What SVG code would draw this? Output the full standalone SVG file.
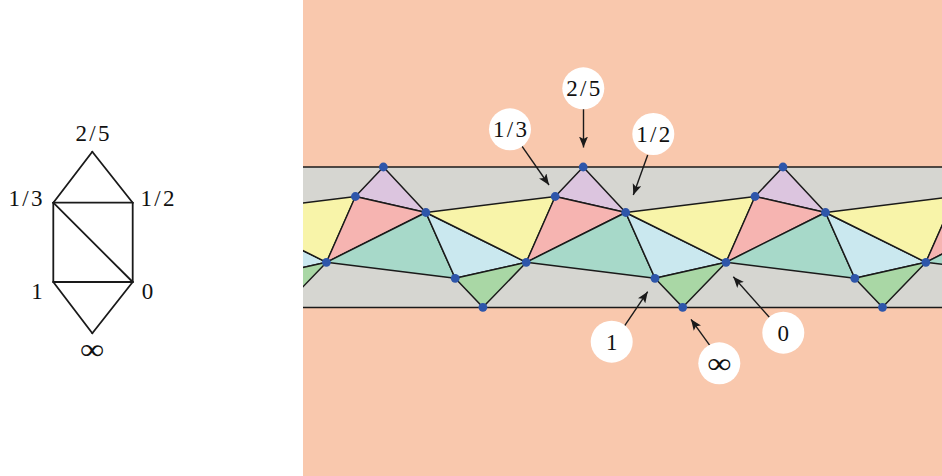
<svg xmlns="http://www.w3.org/2000/svg" xmlns:xlink="http://www.w3.org/1999/xlink" width="942" height="476" viewBox="0 0 942 476">
<style>
.lbl{font-family:"Liberation Serif","DejaVu Serif",serif;font-size:23px;fill:#111;text-anchor:middle}
.inf{font-size:29px}
.g{stroke:#1a1a1a;stroke-width:1.8;fill:none;stroke-linecap:round;stroke-linejoin:round}
.tri{stroke:#1a1a1a;stroke-width:1.5;stroke-linejoin:round}
.dot{fill:#2e56aa}
.arr{stroke:#1a1a1a;stroke-width:1.4;fill:none;marker-end:url(#ah)}
.bub{fill:#ffffff}
</style>
<defs>
<marker id="ah" markerUnits="userSpaceOnUse" markerWidth="12" markerHeight="10" refX="11" refY="4.5" orient="auto">
<path d="M0,0 L11,4.5 L0,9 L2.5,4.5 z" fill="#1a1a1a"/>
</marker>
<clipPath id="panel"><rect x="303" y="0" width="639" height="476"/></clipPath>
<g id="tris">
<polygon class="tri" fill="#dcc5df" points="0,167 -28,196.5 42.5,212.5"/>
<polygon class="tri" fill="#f6b4b1" points="-28,196.5 42.5,212.5 -57,262.3"/>
<polygon class="tri" fill="#a7d9c9" points="-57,262.3 42.5,212.5 71.8,278.3"/>
<polygon class="tri" fill="#cae8ef" points="42.5,212.5 71.8,278.3 143,262.3"/>
<polygon class="tri" fill="#a9d7a5" points="71.8,278.3 99.5,307.3 143,262.3"/>
<polygon class="tri" fill="#f8f4a9" points="42.5,212.5 172,196.5 143,262.3"/>
</g>
<g id="dots">
<circle class="dot" cx="0" cy="167" r="4.4"/>
<circle class="dot" cx="-28" cy="196.5" r="4.4"/>
<circle class="dot" cx="42.5" cy="212.5" r="4.4"/>
<circle class="dot" cx="-57" cy="262.3" r="4.4"/>
<circle class="dot" cx="71.8" cy="278.3" r="4.4"/>
<circle class="dot" cx="99.5" cy="307.3" r="4.4"/>
</g>
</defs>

<!-- left graph -->
<g id="graph">
<g id="edges" class="g">
<line x1="92.3" y1="151.7" x2="53.3" y2="202.7"/>
<line x1="92.3" y1="151.7" x2="132.7" y2="202.7"/>
<line x1="53.3" y1="202.7" x2="132.7" y2="202.7"/>
<line x1="53.3" y1="202.7" x2="53.3" y2="282"/>
<line x1="132.7" y1="202.7" x2="132.7" y2="282"/>
<line x1="53.3" y1="202.7" x2="132.7" y2="282"/>
<line x1="53.3" y1="282" x2="132.7" y2="282"/>
<line x1="53.3" y1="282" x2="92.3" y2="333.3"/>
<line x1="132.7" y1="282" x2="92.3" y2="333.3"/>
</g>
<g id="n-2-5"><text class="lbl" x="92.5" y="140.5" textLength="34" lengthAdjust="spacing">2/5</text></g>
<g id="n-1-3"><text class="lbl" x="25.5" y="206" textLength="34" lengthAdjust="spacing">1/3</text></g>
<g id="n-1-2"><text class="lbl" x="157.5" y="206" textLength="34" lengthAdjust="spacing">1/2</text></g>
<g id="n-1"><text class="lbl" x="37" y="298.5">1</text></g>
<g id="n-0"><text class="lbl" x="147.5" y="298.5">0</text></g>
<g id="n-inf"><text class="lbl inf" x="92" y="359" textLength="24" lengthAdjust="spacingAndGlyphs">∞</text></g>
</g>

<!-- right panel -->
<g id="strip" clip-path="url(#panel)">
<rect x="303" y="0" width="639" height="476" fill="#f9c8ad"/>
<rect x="303" y="167" width="639" height="140.5" fill="#d6d6d1"/>
<use xlink:href="#tris" transform="translate(183.6,0)"/>
<use xlink:href="#tris" transform="translate(383.4,0)"/>
<use xlink:href="#tris" transform="translate(583.2,0)"/>
<use xlink:href="#tris" transform="translate(783,0)"/>
<use xlink:href="#tris" transform="translate(982.8,0)"/>
<line x1="303" y1="167" x2="942" y2="167" stroke="#1a1a1a" stroke-width="1.5"/>
<line x1="303" y1="307.5" x2="942" y2="307.5" stroke="#1a1a1a" stroke-width="1.5"/>
<use xlink:href="#dots" transform="translate(383.4,0)"/>
<use xlink:href="#dots" transform="translate(583.2,0)"/>
<use xlink:href="#dots" transform="translate(783,0)"/>
<use xlink:href="#dots" transform="translate(982.8,0)"/>
</g>

<g id="connectors">
<line class="arr" x1="583.5" y1="107" x2="583.5" y2="147.5"/>
<line class="arr" x1="520" y1="143.3" x2="549" y2="185"/>
<line class="arr" x1="647.7" y1="155" x2="633.3" y2="195"/>
<line class="arr" x1="620" y1="332.7" x2="647.7" y2="291.7"/>
<line class="arr" x1="715" y1="352.7" x2="691" y2="319.3"/>
<line class="arr" x1="773.3" y1="321.7" x2="733.3" y2="276.7"/>
</g>

<g id="b-1-3"><circle class="bub" cx="510" cy="129.3" r="21"/><text class="lbl" x="510" y="137" textLength="34" lengthAdjust="spacing">1/3</text></g>
<g id="b-2-5"><circle class="bub" cx="583.3" cy="88.3" r="21"/><text class="lbl" x="583.3" y="96" textLength="34" lengthAdjust="spacing">2/5</text></g>
<g id="b-1-2"><circle class="bub" cx="653.3" cy="134" r="21"/><text class="lbl" x="653.3" y="141.7" textLength="34" lengthAdjust="spacing">1/2</text></g>
<g id="b-1"><circle class="bub" cx="611.7" cy="341.7" r="21"/><text class="lbl" x="611.7" y="349.5">1</text></g>
<g id="b-inf"><circle class="bub" cx="719.3" cy="363.3" r="21"/><text class="lbl inf" x="719.3" y="372.5" textLength="24" lengthAdjust="spacingAndGlyphs">∞</text></g>
<g id="b-0"><circle class="bub" cx="783.3" cy="332.7" r="21"/><text class="lbl" x="783.3" y="340.5">0</text></g>
</svg>
